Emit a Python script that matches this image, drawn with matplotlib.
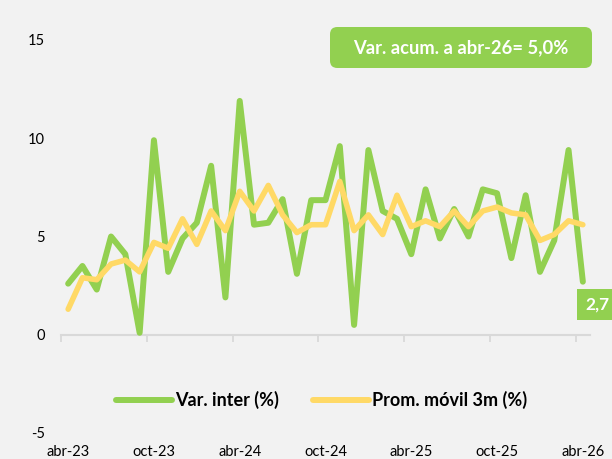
import numpy as np
import matplotlib
matplotlib.use("Agg")
import matplotlib.pyplot as plt
from matplotlib.patches import FancyBboxPatch

# ---- data ----
green = [2.6, 3.5, 2.3, 5.0, 4.1, 0.1, 9.9, 3.2, 4.9, 5.7, 8.6, 1.9, 11.9,
         5.6, 5.7, 6.9, 3.1, 6.85, 6.85, 9.6, 0.5, 9.4, 6.3, 5.9, 4.1,
         7.4, 4.9, 6.4, 5.0, 7.4, 7.2, 3.9, 7.1, 3.2, 4.8, 9.4, 2.7]
yellow = [1.3, 2.9, 2.8, 3.6, 3.8, 3.2, 4.7, 4.4, 5.9, 4.6, 6.3, 5.3, 7.3,
          6.3, 7.6, 6.1, 5.2, 5.6, 5.6, 7.8, 5.3, 6.1, 5.1, 7.1, 5.5,
          5.8, 5.5, 6.3, 5.5, 6.3, 6.5, 6.2, 6.1, 4.8, 5.1, 5.8, 5.6]
tick_labels = ["abr-23", "oct-23", "abr-24", "oct-24", "abr-25", "oct-25", "abr-26"]
label_step = 6
series_names = ["Var. inter (%)", "Prom. móvil 3m (%)"]
banner_text = "Var. acum. a abr-26= 5,0%"
yticks = [-5, 0, 5, 10, 15]

GREEN = "#92D050"
YELLOW = "#FFD966"
BG = "#F2F2F2"
AXIS = "#D9D9D9"

plt.rcParams['font.family'] = ['Lato', 'DejaVu Sans']

W, H = 612, 459
fig = plt.figure(figsize=(W / 100, H / 100), dpi=100, facecolor=BG)
ax = fig.add_axes([61 / W, 1 - 433 / H, (590 - 61) / W, (433 - 40) / H])
ax.set_facecolor(BG)

x = np.arange(len(green))
ax.plot(x, green, color=GREEN, lw=4.3, solid_capstyle='round',
        solid_joinstyle='round', label=series_names[0], zorder=3)
ax.plot(x, yellow, color=YELLOW, lw=4.0, solid_capstyle='round',
        solid_joinstyle='round', label=series_names[1], zorder=4)

ax.set_xlim(-0.5, len(green) - 0.5)
ax.set_ylim(yticks[0], yticks[-1])
for s in ax.spines.values():
    s.set_visible(False)

ax.set_xticks(x[::label_step])
ax.set_xticklabels(tick_labels, fontsize=10.5, color="#000000")
ax.tick_params(axis='x', length=0, pad=9)
ax.set_yticks(yticks)
ax.set_yticklabels([str(v) for v in yticks], fontsize=10.5, color="#000000")
ax.tick_params(axis='y', length=0, pad=11.5)

# axis line at y=0 with category-boundary ticks
sec = ax.secondary_xaxis(0, transform=ax.transData)
sec.set_xticks(np.arange(-0.5, len(green), label_step))
sec.set_xticklabels([])
sec.tick_params(axis='x', direction='out', length=5, width=1.3, color=AXIS)
for name, s in sec.spines.items():
    if name == 'bottom':
        s.set_color(AXIS)
        s.set_linewidth(1.5)
    else:
        s.set_visible(False)

# legend
leg = ax.legend(loc='center', bbox_to_anchor=(321.5 / W, 1 - 400 / H),
                bbox_transform=fig.transFigure, ncol=2, frameon=False,
                handlelength=3.1, handletextpad=0.15, columnspacing=1.9,
                prop={'size': 13, 'weight': 'bold'})
for ln in leg.get_lines():
    ln.set_linewidth(4.3)
    ln.set_solid_capstyle('round')

# last value label
last = green[-1]
ax.annotate(f"{last:.1f}".replace('.', ','), xy=(x[-1], last),
            xytext=(1.5, -16.5), textcoords='offset points', ha='left', va='center',
            fontsize=12.5, fontweight='bold', color='white', annotation_clip=False,
            bbox=dict(boxstyle='square,pad=0.45', fc=GREEN, ec='none'), zorder=6)

# banner
bx0, by0, bx1, by1 = 330, 27, 592, 68
fig.patches.append(FancyBboxPatch((bx0 / W, 1 - by1 / H), (bx1 - bx0) / W, (by1 - by0) / H,
                                  boxstyle='round,pad=0,rounding_size=0.012',
                                  transform=fig.transFigure, fc=GREEN, ec='none',
                                  mutation_aspect=W / H, figure=fig))
fig.text((bx0 + bx1) / 2 / W, 1 - (by0 + by1) / 2 / H, banner_text, ha='center',
         va='center', fontsize=13.2, fontweight='bold', color='white')

fig.savefig("out.png", dpi=100, facecolor=BG)
